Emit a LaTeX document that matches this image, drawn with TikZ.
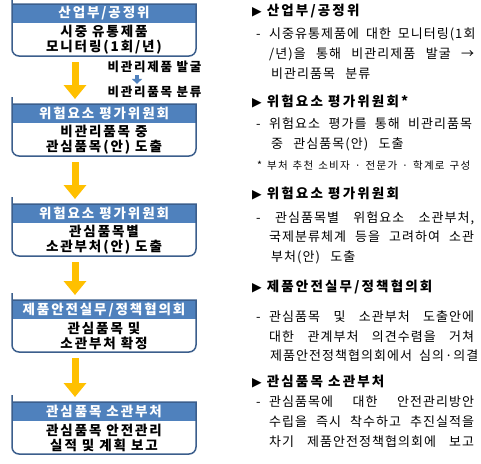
\documentclass[tikz,border=0pt]{standalone}
\usepackage{fontspec}
\setmainfont{Noto Sans CJK KR}[LetterSpace=6]
\newfontfamily\boxf{Noto Sans CJK KR}[LetterSpace=14]
\newfontfamily\sidef{Noto Sans CJK KR}[LetterSpace=14]
\newfontfamily\rheadf{Noto Sans CJK KR}[LetterSpace=16]
\newfontfamily\rtextf{Noto Sans CJK KR}[LetterSpace=8, WordSpace=2.6]
\newfontfamily\notef{Noto Sans CJK KR}[LetterSpace=12]
\newfontfamily\symfont{DejaVu Sans}
\usetikzlibrary{arrows.meta}
\definecolor{hdrblue}{HTML}{4F81BD}
\definecolor{edgeblue}{HTML}{3B5E8C}
\definecolor{gold}{HTML}{FFC000}
\tikzset{
  hdr/.style={fill=hdrblue, text=white, font=\boxf\bfseries\fontsize{13.5}{15}\selectfont,
    minimum width=184pt, minimum height=19pt, inner sep=0pt, outer sep=0pt},
  bodytext/.style={fill=white, minimum width=184pt, minimum height=33pt, inner sep=0pt,
    outer sep=0pt, align=center, font=\boxf\bfseries\fontsize{13.5}{15}\selectfont},
  outline/.style={draw=edgeblue, line width=1.5pt},
  flow/.style={draw=gold, line width=7pt,
    -{Triangle[width=22pt 0 0, length=14pt 0 0]}, shorten <=6pt, shorten >=5pt},
  smallflow/.style={draw=hdrblue, line width=3.5pt,
    -{Triangle[width=10pt 0 0, length=5pt 0 0]}, shorten <=2pt, shorten >=2pt},
  sidetext/.style={inner sep=0pt, font=\sidef\bfseries\fontsize{12.5}{14}\selectfont},
  rhead/.style={anchor=west, inner sep=0pt, font=\rheadf\bfseries\fontsize{13.5}{15}\selectfont,
    text height=9pt, text depth=3pt},
  rtext/.style={anchor=west, inner sep=0pt, font=\rtextf\fontsize{13}{15}\selectfont,
    text height=9pt, text depth=3pt},
  rnote/.style={anchor=west, inner sep=0pt, font=\notef\fontsize{10.5}{12}\selectfont,
    text height=7pt, text depth=2pt},
}
\newcommand\flowbox[4]{%
  \node[hdr] (h#1) at (104,#2+9.5) {#3};
  \node[bodytext, anchor=north] (b#1) at (h#1.south) {#4};
  \draw[outline] (h#1.north west) -- (h#1.north east) [rounded corners=7pt] -- (b#1.south east)
     -- (b#1.south west) -- (h#1.north west) [sharp corners] -- cycle;
}
\newcommand\bul{{\symfont\fontsize{12.5}{13}\selectfont▶}\hspace{5pt}}
\newcommand\dsh{\makebox[13pt][l]{-}}
\newcommand\jl[1]{\makebox[205pt][s]{#1}}
\begin{document}
\begin{tikzpicture}[x=1pt,y=-1pt]
\useasboundingbox (0,0) rectangle (481,463);
\fill[white] (0,0) rectangle (481,463);

\flowbox{1}{4}{산업부/공정위}{시중 유통제품\\모니터링(1회/년)}
\flowbox{2}{104}{위험요소 평가위원회}{비관리품목 중\\관심품목(안) 도출}
\flowbox{3}{204}{위험요소 평가위원회}{관심품목별\\소관부처(안) 도출}
\flowbox{4}{300}{제품안전실무/정책협의회}{관심품목 및\\소관부처 확정}
\flowbox{5}{402}{관심품목 소관부처}{관심품목 안전관리\\실적 및 계획 보고}

\draw[flow] ([xshift=-29pt]b1.south) -- ([xshift=-29pt]h2.north);
\draw[flow] ([xshift=-29pt]b2.south) -- ([xshift=-29pt]h3.north);
\draw[flow] ([xshift=-29pt]b3.south) -- ([xshift=-29pt]h4.north);
\draw[flow] ([xshift=-29pt]b4.south) -- ([xshift=-29pt]h5.north);

\node[sidetext] (s1) at (154.5,67) {비관리제품 발굴};
\node[sidetext] (s2) at (154.5,92) {비관리품목 분류};
\draw[smallflow] ([xshift=-17.5pt]s1.south) -- ([xshift=-17.5pt]s2.north);

\node[rhead] (r1) at (252,13) {\bul 산업부/공정위};
\node[rtext] (r2) at (256,35) {\dsh\jl{시중유통제품에 대한 모니터링(1회}};
\node[rtext] (r3) at (269,55) {\jl{/년)을 통해 비관리제품 발굴 →}};
\node[rtext] (r4) at (271,75) {비관리품목 분류};

\node[rhead] (r5) at (252,103) {\bul 위험요소 평가위원회*};
\node[rtext] (r6) at (256,125) {\dsh\makebox[203pt][s]{위험요소 평가를 통해 비관리품목}};
\node[rtext] (r7) at (271,145) {중 관심품목(안) 도출};
\node[rnote] (r8) at (257,167) {\makebox[213pt][s]{* 부처 추천 소비자 · 전문가 · 학계로 구성}};

\node[rhead] (r9) at (252,195) {\bul 위험요소 평가위원회};
\node[rtext] (r10) at (256,219) {\makebox[19pt][l]{-}\makebox[199pt][s]{관심품목별 위험요소 소관부처,}};
\node[rtext] (r11) at (269,238) {\jl{국제분류체계 등을 고려하여 소관}};
\node[rtext] (r12) at (271,258) {부처(안) 도출};

\node[rhead] (r13) at (252,288) {\bul 제품안전실무/정책협의회};
\node[rtext] (r14) at (256,318) {\dsh\jl{관심품목 및 소관부처 도출안에}};
\node[rtext] (r15) at (269,338) {\jl{대한 관계부처 의견수렴을 거쳐}};
\node[rtext] (r16) at (270,357) {\makebox[203pt][s]{제품안전정책협의회에서 심의·의결}};

\node[rhead] (r17) at (252,383) {\bul 관심품목 소관부처};
\node[rtext] (r18) at (256,403) {\dsh\jl{관심품목에 대한 안전관리방안}};
\node[rtext] (r19) at (269,423) {\jl{수립을 즉시 착수하고 추진실적을}};
\node[rtext] (r20) at (269,443) {\jl{차기 제품안전정책협의회에 보고}};
\end{tikzpicture}
\end{document}
